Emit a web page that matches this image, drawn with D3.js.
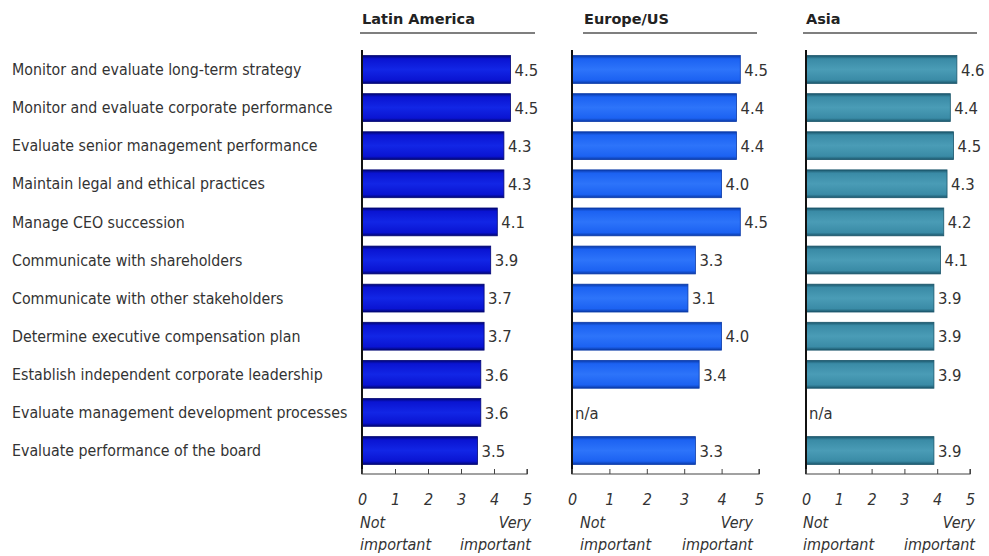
<!DOCTYPE html>
<html>
<head>
<meta charset="utf-8">
<script src="https://cdn.jsdelivr.net/npm/d3@7"></script>
<style>
  html, body { margin: 0; padding: 0; background: #fff; }
  svg { display: block; }
  text { font-family: "DejaVu Sans Condensed", "DejaVu Sans", sans-serif; fill: #333; }
</style>
</head>
<body>
<svg id="chart" width="989" height="556"></svg>
<script>
// Board responsibilities, rated 0 (not important) to 5 (very important)
const categories = [
  "Monitor and evaluate long-term strategy",
  "Monitor and evaluate corporate performance",
  "Evaluate senior management performance",
  "Maintain legal and ethical practices",
  "Manage CEO succession",
  "Communicate with shareholders",
  "Communicate with other stakeholders",
  "Determine executive compensation plan",
  "Establish independent corporate leadership",
  "Evaluate management development processes",
  "Evaluate performance of the board"
];
const regions = ["Latin America", "Europe/US", "Asia"];
const latinAmerica = [4.5, 4.5, 4.3, 4.3, 4.1, 3.9, 3.7, 3.7, 3.6, 3.6, 3.5];
const europeUS     = [4.5, 4.4, 4.4, 4.0, 4.5, 3.3, 3.1, 4.0, 3.4, null, 3.3];
const asia         = [4.6, 4.4, 4.5, 4.3, 4.2, 4.1, 3.9, 3.9, 3.9, null, 3.9];
const tickValues = [0, 1, 2, 3, 4, 5];
const lowLabel = ["Not", "important"];
const highLabel = ["Very", "important"];

const series = [latinAmerica, europeUS, asia];

// Panel layout
const panels = [
  { x0: 362, x1: 527, titleX: 362, ruleX0: 360, ruleX1: 535, lowX: 360, highX: 531, fill: "#0a14d2", edge: "#020674", mid: "#1226e6" },
  { x0: 572, x1: 759, titleX: 584, ruleX0: 583, ruleX1: 757, lowX: 580, highX: 753, fill: "#1c62f2", edge: "#0a3aa8", mid: "#2d74fa" },
  { x0: 806, x1: 970, titleX: 806, ruleX0: 803, ruleX1: 977, lowX: 803, highX: 975, fill: "#3a8ba6", edge: "#1b566b", mid: "#4a9cb6" }
];

const svg = d3.select("#chart");
const defs = svg.append("defs");

const y = d3.scaleBand()
  .domain(categories)
  .range([51, 469])
  .paddingInner(0.27)
  .paddingOuter(0.12);

const axisY = 474;

// Category labels
svg.append("g")
  .selectAll("text")
  .data(categories)
  .join("text")
  .attr("x", 12)
  .attr("y", d => y(d) + y.bandwidth() / 2)
  .attr("dy", "0.36em")
  .style("font-size", "15.8px")
  .text(d => d);

panels.forEach((p, i) => {
  const x = d3.scaleLinear().domain([0, 5]).range([p.x0, p.x1]);
  const g = svg.append("g");

  // Bar shading
  const gid = "grad" + i;
  const grad = defs.append("linearGradient").attr("id", gid)
    .attr("x1", 0).attr("y1", 0).attr("x2", 0).attr("y2", 1);
  grad.append("stop").attr("offset", "0%").attr("stop-color", p.edge);
  grad.append("stop").attr("offset", "12%").attr("stop-color", p.fill);
  grad.append("stop").attr("offset", "50%").attr("stop-color", p.mid);
  grad.append("stop").attr("offset", "88%").attr("stop-color", p.fill);
  grad.append("stop").attr("offset", "100%").attr("stop-color", p.edge);

  // Region title and rule
  g.append("text")
    .attr("x", p.titleX)
    .attr("y", 24)
    .style("font-family", "'DejaVu Sans', sans-serif")
    .style("font-weight", "bold")
    .style("font-size", "14.5px")
    .style("fill", "#222")
    .text(regions[i]);
  g.append("line")
    .attr("x1", p.ruleX0).attr("x2", p.ruleX1)
    .attr("y1", 33).attr("y2", 33)
    .attr("stroke", "#555").attr("stroke-width", 1.5);

  const rows = categories.map((c, j) => ({ c, v: series[i][j] }));

  // Bars
  g.selectAll("rect.bar")
    .data(rows.filter(d => d.v != null))
    .join("rect")
    .attr("class", "bar")
    .attr("x", x(0))
    .attr("y", d => y(d.c))
    .attr("width", d => x(d.v) - x(0))
    .attr("height", y.bandwidth())
    .attr("fill", `url(#${gid})`)
    .attr("stroke", p.edge)
    .attr("stroke-width", 0.8);

  // Value labels
  g.selectAll("text.val")
    .data(rows)
    .join("text")
    .attr("class", "val")
    .attr("x", d => d.v != null ? x(d.v) + 4 : x(0) + 3)
    .attr("y", d => y(d.c) + y.bandwidth() / 2)
    .attr("dy", "0.38em")
    .style("font-size", "16.5px")
    .text(d => d.v != null ? d.v.toFixed(1) : "n/a");

  // Vertical baseline
  g.append("line")
    .attr("x1", x(0)).attr("x2", x(0))
    .attr("y1", 50).attr("y2", axisY)
    .attr("stroke", "#111").attr("stroke-width", 2);

  // Bottom axis with upward ticks
  const axis = d3.axisBottom(x).tickValues(tickValues).tickSize(-5).tickFormat(d3.format("d"));
  const ag = g.append("g").attr("transform", `translate(0,${axisY})`).call(axis);
  ag.select(".domain").attr("stroke", "#444").attr("stroke-width", 1.2).attr("d", `M${x(0)},-5V0H${x(5)}V-5`);
  ag.selectAll(".tick line").attr("stroke", "#444");
  ag.selectAll(".tick text")
    .attr("y", 20)
    .style("font-family", "'DejaVu Sans Condensed', 'DejaVu Sans', sans-serif")
    .style("font-style", "italic")
    .style("font-size", "16px")
    .style("fill", "#333");

  // Scale end descriptors
  const endLabels = [
    { lines: lowLabel, xpos: p.lowX, anchor: "start" },
    { lines: highLabel, xpos: p.highX, anchor: "end" }
  ];
  endLabels.forEach(e => {
    e.lines.forEach((t, k) => {
      g.append("text")
        .attr("x", e.xpos)
        .attr("y", 528 + k * 22)
        .attr("text-anchor", e.anchor)
        .style("font-style", "italic")
        .style("font-size", "16px")
        .text(t);
    });
  });
});
</script>
</body>
</html>
